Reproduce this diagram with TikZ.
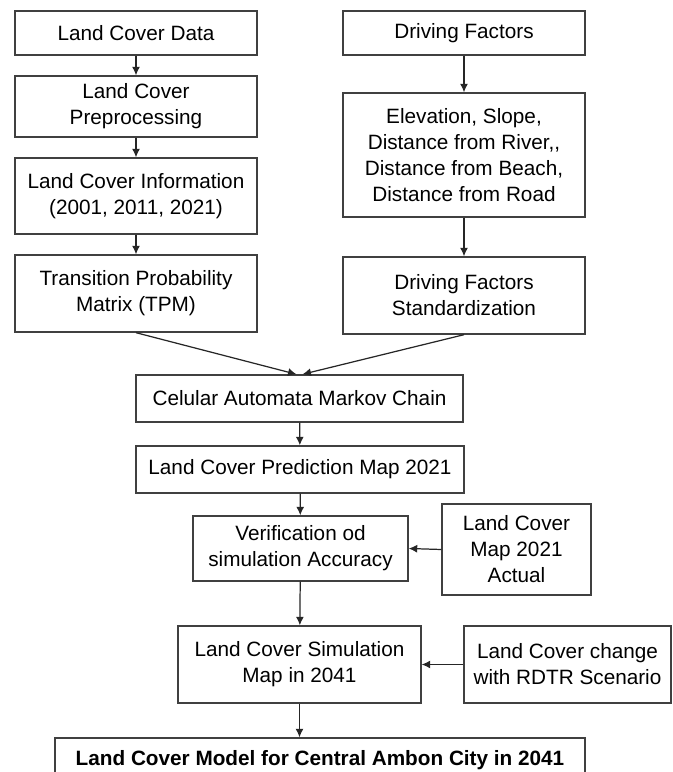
\documentclass[tikz,border=0pt]{standalone}
\usepackage{fontspec}
\setmainfont{Liberation Sans}
\usetikzlibrary{arrows.meta}
\begin{document}
\begin{tikzpicture}[
  box/.style={draw=black!75,line width=0.8pt,fill=white,align=center,inner sep=0pt,font=\fontsize{11.8}{14.8}\selectfont},
  arr/.style={draw=black!85,line width=0.7pt,-{Latex[length=1.7mm,width=1.6mm]}}]
\clip (0,0) rectangle (13.44,15.44);
\node[box,minimum width=4.84cm,minimum height=0.88cm] (lcdata) at (2.72,14.78) {Land Cover Data};
\node[box,minimum width=4.84cm,minimum height=1.22cm] (lcpre) at (2.72,13.31) {Land Cover\\Preprocessing};
\node[box,minimum width=4.84cm,minimum height=1.52cm] (lcinfo) at (2.72,11.52) {Land Cover Information\\(2001, 2011, 2021)};
\node[box,minimum width=4.84cm,minimum height=1.54cm] (tpm) at (2.72,9.57) {Transition Probability\\Matrix (TPM)};
\node[box,minimum width=4.84cm,minimum height=0.88cm] (df) at (9.28,14.78) {Driving Factors};
\node[box,minimum width=4.84cm,minimum height=2.48cm] (elev) at (9.28,12.34) {Elevation, Slope,\\Distance from River,{},\\Distance from Beach,\\Distance from Road};
\node[box,minimum width=4.84cm,minimum height=1.54cm] (dfstd) at (9.28,9.53) {Driving Factors\\Standardization};
\node[box,minimum width=6.54cm,minimum height=0.94cm] (cam) at (5.99,7.47) {Celular Automata Markov Chain};
\node[box,minimum width=6.56cm,minimum height=0.94cm] (pred) at (6.0,6.05) {Land Cover Prediction Map 2021};
\node[box,minimum width=4.3cm,minimum height=1.3cm] (verif) at (6.01,4.47) {Verification od\\simulation Accuracy};
\node[box,minimum width=2.98cm,minimum height=1.82cm] (actual) at (10.33,4.45) {Land Cover\\Map 2021\\Actual};
\node[box,minimum width=4.86cm,minimum height=1.54cm] (sim) at (5.99,2.15) {Land Cover Simulation\\Map in 2041};
\node[box,minimum width=4.14cm,minimum height=1.54cm] (rdtr) at (11.35,2.15) {Land Cover change\\with RDTR Scenario};
\node[box,minimum width=10.6cm,minimum height=0.88cm,font=\bfseries\fontsize{11.8}{14.8}\selectfont] (model) at (6.4,0.24) {Land Cover Model for Central Ambon City in 2041};
\draw[arr] (lcdata) -- (lcpre);
\draw[arr] (lcpre) -- (lcinfo);
\draw[arr] (lcinfo) -- (tpm);
\draw[arr] (df) -- (elev);
\draw[arr] (elev) -- (dfstd);
\draw[arr] (tpm.south) -- ([xshift=-0.06cm]cam.north);
\draw[arr] (dfstd.south) -- ([xshift=0.06cm]cam.north);
\draw[arr] (cam) -- (pred);
\draw[arr] (pred) -- (verif);
\draw[arr] (actual.west) -- (verif.east);
\draw[arr] (verif) -- (sim);
\draw[arr] (rdtr.west) -- (sim.east);
\draw[arr] (sim.south) -- (sim.south |- model.north);
\end{tikzpicture}
\end{document}
